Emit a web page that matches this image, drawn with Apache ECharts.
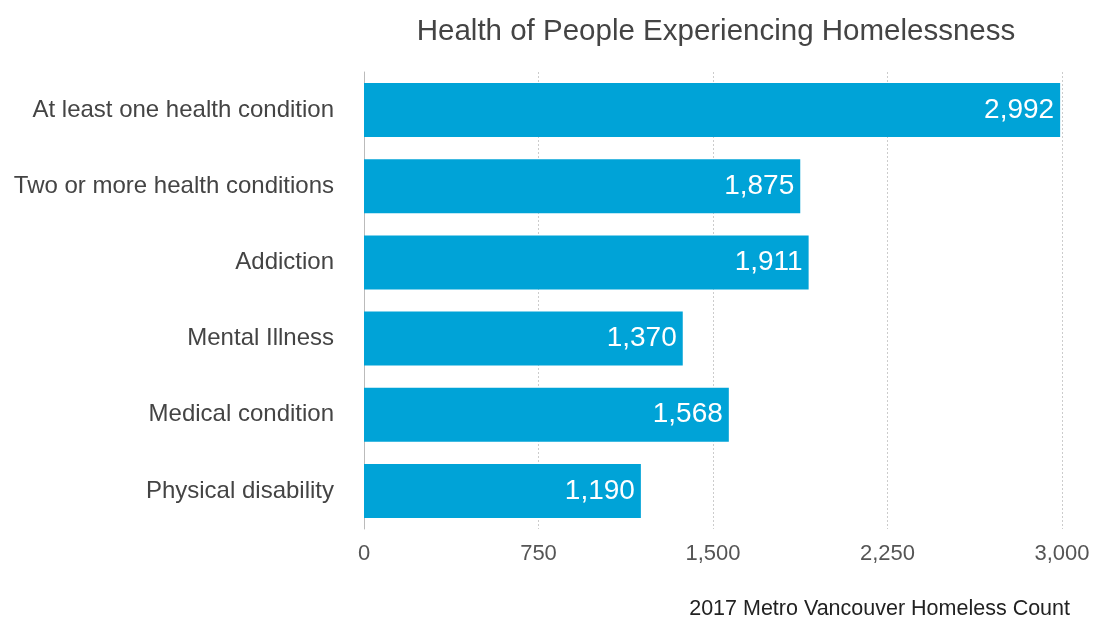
<!DOCTYPE html>
<html>
<head>
<meta charset="utf-8">
<style>
  html, body { margin: 0; padding: 0; background: #fff; }
  #chart { width: 1096px; height: 618px; }
</style>
<script src="https://cdn.jsdelivr.net/npm/echarts@6/dist/echarts.min.js"></script>
</head>
<body>
<div id="chart"></div>
<script>
// Health conditions reported in the 2017 Metro Vancouver Homeless Count
const categories = [
  'At least one health condition',
  'Two or more health conditions',
  'Addiction',
  'Mental Illness',
  'Medical condition',
  'Physical disability'
];
const counts = [2992, 1875, 1911, 1370, 1568, 1190];
const xTicks = [0, 750, 1500, 2250, 3000];

const fmt = v => Number(v).toLocaleString('en-US');

const chart = echarts.init(document.getElementById('chart'), null, { renderer: 'canvas' });
chart.setOption({
  animation: false,
  backgroundColor: '#ffffff',
  textStyle: { fontFamily: '"Liberation Sans", Arial, sans-serif' },
  title: [{
    text: 'Health of People Experiencing Homelessness',
    left: 711, top: 12, textAlign: 'center',
    textStyle: { fontSize: 29.5, fontWeight: 'normal', color: '#444444' }
  }, {
    text: '2017 Metro Vancouver Homeless Count',
    right: 21, top: 593,
    textStyle: { fontSize: 21.5, fontWeight: 'normal', color: '#222222' }
  }],
  grid: { left: 364, right: 34, top: 72, bottom: 89, containLabel: false },
  xAxis: {
    type: 'value',
    min: xTicks[0], max: xTicks[xTicks.length - 1], interval: 750,
    axisLine: { show: false },
    axisTick: { show: false },
    axisLabel: { color: '#555555', fontSize: 22, margin: 14, formatter: fmt },
    splitLine: { show: true, lineStyle: { color: '#cccccc', type: [2, 2], width: 1 } }
  },
  yAxis: {
    type: 'category',
    data: categories,
    inverse: true,
    axisLine: { show: true, lineStyle: { color: '#bbbbbb', width: 1 } },
    axisTick: { show: false },
    axisLabel: { color: '#444444', fontSize: 24, margin: 30 }
  },
  series: [{
    type: 'bar',
    data: counts,
    barWidth: 54,
    itemStyle: { color: '#00A3D7' },
    label: {
      show: true, position: 'insideRight', distance: 6,
      color: '#ffffff', fontSize: 28, formatter: p => fmt(p.value)
    }
  }]
});
</script>
</body>
</html>
